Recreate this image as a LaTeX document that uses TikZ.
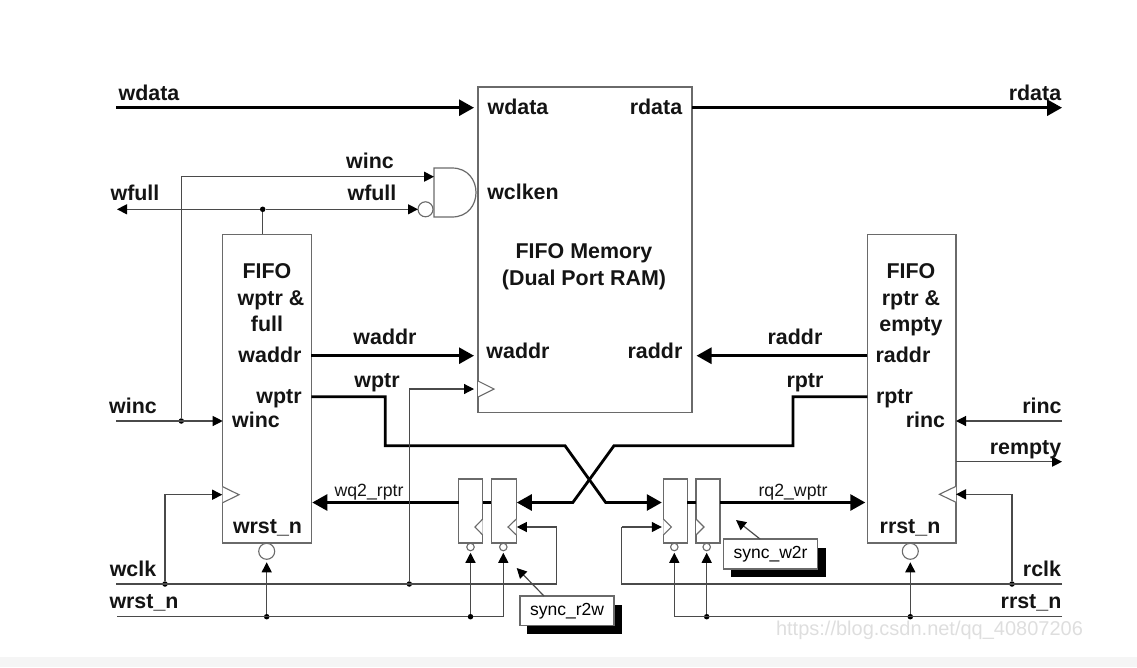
\documentclass[tikz,border=0pt]{standalone}
\usepackage{fontspec}
\setmainfont{Liberation Sans}
\usetikzlibrary{arrows.meta}
\definecolor{wire}{HTML}{4A4A4A}
\definecolor{edge}{HTML}{6A6A6A}
\tikzset{
  boxn/.style={draw=edge,line width=1.3pt,fill=white,inner sep=0pt,outer sep=0pt},
  wirethin/.style={draw=wire,line width=1.2pt,-{Triangle[length=10pt,width=10pt,color=black]}},
  wireplain/.style={draw=wire,line width=1.2pt},
  wirethick/.style={draw=black,line width=2.8pt,-{Triangle[length=15pt,width=16pt,color=black]}},
  wirebold/.style={draw=black,line width=2.8pt},
  lbl/.style={anchor=base,inner sep=0pt,text=black!92,font=\bfseries\fontsize{21.4}{24}\selectfont},
  small/.style={anchor=base,inner sep=0pt,text=black!92,font=\fontsize{17.7}{20}\selectfont},
  dotn/.style={circle,fill=black,inner sep=0pt,minimum size=5.5pt},
  bub/.style={circle,draw=edge,line width=1.1pt,fill=white,inner sep=0pt,outer sep=0pt},
  clk/.style={draw=edge,line width=1.1pt,fill=white},
  tagn/.style={boxn,font=\fontsize{17.5}{20}\selectfont,text=black},
  shadow/.style={fill=black,draw=none}
}
\begin{document}
\begin{tikzpicture}[x=1pt,y=-1pt]
\useasboundingbox (0,0) rectangle (1137,667);
\fill[black!4] (0,657) rectangle (1137,667);
% free ends and turning points
\coordinate (wdS) at (116,107.7);
\coordinate (rdE) at (1062,107.7);
\coordinate (wfE) at (117,209.3);
\coordinate (wiS) at (116,421);
\coordinate (wiT) at (181.3,176.7);
\coordinate (riS) at (1062,421);
\coordinate (reE) at (1062,461.7);
\coordinate (wcS) at (116,584);
\coordinate (wrS) at (117,616.7);
\coordinate (rcS) at (1062,584);
\coordinate (rrS) at (1062,616.7);
\coordinate (wcA) at (556.7,527);
\coordinate (wcB) at (556.7,584);
\coordinate (rcA) at (621.7,527);
\coordinate (rcB) at (621.7,584);
\coordinate (wp1) at (385.3,396.7);
\coordinate (wp2) at (385.3,445.7);
\coordinate (wp3) at (565,445.7);
\coordinate (wp4) at (605.7,502.5);
\coordinate (rp1) at (793,396.7);
\coordinate (rp2) at (793,445.7);
\coordinate (rp3) at (614,445.7);
\coordinate (rp4) at (572.8,502.5);
\coordinate (thick) at (0,502.5);
% boxes
\node[boxn,minimum width=214pt,minimum height=325.5pt] (mem) at (585,249.75) {};
\node[boxn,minimum width=88.6pt,minimum height=308.7pt] (fw) at (267,388.65) {};
\node[boxn,minimum width=88.7pt,minimum height=308.7pt] (fr) at (911.65,388.65) {};
\node[boxn,minimum width=24pt,minimum height=64pt] (s1) at (470.7,511) {};
\node[boxn,minimum width=25pt,minimum height=64pt] (s2) at (503.8,511) {};
\node[boxn,minimum width=24pt,minimum height=64pt] (s3) at (675.3,511) {};
\node[boxn,minimum width=24pt,minimum height=64pt] (s4) at (708,511) {};
% clock triangles
\draw[clk] (478,381) -- (494,389) -- (478,397);
\draw[clk] (222.7,486.7) -- (239,494.7) -- (222.7,502.7);
\draw[clk] (956,486.3) -- (939.4,494.3) -- (956,502.3);
\draw[clk] (482.7,519) -- (475,527) -- (482.7,535);
\draw[clk] (516.3,519) -- (508,527) -- (516.3,535);
\draw[clk] (663.3,519) -- (671.3,527) -- (663.3,535);
\draw[clk] (696,519) -- (704,527) -- (696,535);
% gate
\draw[draw=edge,line width=1.2pt,fill=white] (434,168) -- (452,168) .. controls (484,168) and (484,217) .. (452,217) -- (434,217) -- cycle;
\coordinate (gA) at (434,176.7);
\coordinate (gB) at (418,209.3);
\node[bub,minimum size=15pt] (gbub) at (425.5,209.3) {};
% inversion bubbles
\node[bub,minimum size=16pt] (bw) at (266.7,551.3) {};
\node[bub,minimum size=16pt] (br) at (910.3,551.3) {};
\node[bub,minimum size=7.5pt] (b1) at (470.5,547) {};
\node[bub,minimum size=7.5pt] (b2) at (503.3,547) {};
\node[bub,minimum size=7.5pt] (b3) at (674.3,547) {};
\node[bub,minimum size=7.5pt] (b4) at (706.7,547) {};
% junction dots
\node[dotn] (dwf) at (262.7,209.3) {};
\node[dotn] (dwi) at (181.3,421) {};
\node[dotn] (dwc) at (165,584) {};
\node[dotn] (dmc) at (409.3,584) {};
\node[dotn] (dwr) at (266.7,616.7) {};
\node[dotn] (ds1) at (470.5,616.7) {};
\node[dotn] (ds4) at (706.7,616.7) {};
\node[dotn] (drr) at (910.3,616.7) {};
\node[dotn] (drc) at (1012,584) {};
% thick connectors
\draw[wirethick,shorten >=4pt] (wdS) -- (mem.west |- wdS);
\draw[wirethick] (mem.east |- rdE) -- (rdE);
\draw[wirethick,shorten >=4pt] (fw.east |- 0,355.7) -- (mem.west |- 0,355.7);
\draw[wirethick,shorten >=4.5pt] (fr.west |- 0,355.7) -- (mem.east |- 0,355.7);
\draw[wirethick,shorten >=1.5pt] (fw.east |- wp1) -- (wp1) -- (wp2) -- (wp3) -- (wp4) -- (s3.west |- thick);
\draw[wirethick,shorten >=0.5pt] (fr.west |- rp1) -- (rp1) -- (rp2) -- (rp3) -- (rp4) -- (s2.east |- thick);
\draw[wirethick,shorten >=1pt] (s1.west |- thick) -- (fw.east |- thick);
\draw[wirebold] (s1.east |- thick) -- (s2.west |- thick);
\draw[wirebold] (s3.east |- thick) -- (s4.west |- thick);
\draw[wirethick,shorten >=2pt] (s4.east |- thick) -- (fr.west |- thick);
% thin connectors
\draw[wirethin] (dwi) -- (wiT) -- (gA);
\draw[wireplain] (dwi) -- (wiS);
\draw[wirethin] (wiS) -- (fw.west |- wiS);
\draw[wirethin] (dwf) -- (wfE);
\draw[wirethin] (dwf) -- (gB);
\draw[wireplain] (dwf) -- (dwf |- fw.north);
\draw[wireplain] (wcS) -- (wcB) -- (wcA);
\draw[wirethin,shorten >=0.5pt] (wcA) -- (s2.east |- wcA);
\draw[wirethin,shorten >=0.5pt] (dwc) -- (dwc |- 0,494.7) -- (fw.west |- 0,494.7);
\draw[wirethin,shorten >=4pt] (dmc) -- (dmc |- 0,389) -- (mem.west |- 0,389);
\draw[wireplain] (wrS) -- (ds1) -- (b2 |- wrS);
\draw[wirethin,shorten >=3pt] (dwr) -- (bw.south);
\draw[wirethin,shorten >=2pt] (ds1) -- (b1.south);
\draw[wirethin,shorten >=2pt] (b2 |- wrS) -- (b2.south);
\draw[wireplain] (rcS) -- (rcB) -- (rcA);
\draw[wirethin,shorten >=1.5pt] (rcA) -- (s3.west |- rcA);
\draw[wirethin] (drc) -- (drc |- 0,494.3) -- (fr.east |- 0,494.3);
\draw[wireplain] (rrS) -- (b3 |- rrS);
\draw[wirethin,shorten >=2pt] (b3 |- rrS) -- (b3.south);
\draw[wirethin,shorten >=2pt] (ds4) -- (b4.south);
\draw[wirethin,shorten >=3pt] (drr) -- (br.south);
\draw[wirethin] (riS) -- (fr.east |- riS);
\draw[wirethin] (fr.east |- reE) -- (reE);
% tags
\fill[shadow] (526.7,605) rectangle (622,634);
\node[tagn,minimum width=94pt,minimum height=29.7pt] (tr2w) at (567,610.85) {sync\_r2w};
\fill[shadow] (730.6,548) rectangle (826,577);
\node[tagn,minimum width=94pt,minimum height=30pt] (tw2r) at (770.5,554) {sync\_w2r};
\coordinate (tr2wT) at (516.7,568);
\coordinate (tw2rT) at (736,520);
\draw[wirethin] (544,596) -- (tr2wT);
\draw[wirethin] (760,539) -- (tw2rT);
% labels
\node[lbl] (t01) at (149,100) {wdata};
\node[lbl] (t02) at (518,114) {wdata};
\node[lbl] (t03) at (656,114) {rdata};
\node[lbl] (t04) at (1035,100) {rdata};
\node[lbl] (t05) at (370,168) {winc};
\node[lbl] (t06) at (372,200) {wfull};
\node[lbl] (t07) at (135,200) {wfull};
\node[lbl] (t08) at (523,199) {wclken};
\node[lbl] (t09) at (584,258) {FIFO Memory};
\node[lbl] (t10) at (584,285) {(Dual Port RAM)};
\node[lbl] (t11) at (267,278) {FIFO};
\node[lbl] (t12) at (271,305) {wptr \&};
\node[lbl] (t13) at (267,331) {full};
\node[lbl] (t14) at (270,362) {waddr};
\node[lbl] (t15) at (385,344) {waddr};
\node[lbl] (t16) at (518,358) {waddr};
\node[lbl] (t17) at (655,358) {raddr};
\node[lbl] (t18) at (795,344) {raddr};
\node[lbl] (t19) at (903,362) {raddr};
\node[lbl] (t20) at (911,278) {FIFO};
\node[lbl] (t21) at (911,305) {rptr \&};
\node[lbl] (t22) at (911,331) {empty};
\node[lbl] (t23) at (377,387) {wptr};
\node[lbl] (t24) at (805,387) {rptr};
\node[lbl] (t25) at (279,403) {wptr};
\node[lbl] (t26) at (894.5,403) {rptr};
\node[lbl] (t27) at (256,427) {winc};
\node[lbl] (t28) at (925.5,427) {rinc};
\node[lbl] (t29) at (133,413) {winc};
\node[lbl] (t30) at (1042,413) {rinc};
\node[lbl] (t31) at (1025.5,454) {rempty};
\node[lbl] (t32) at (267.5,533) {wrst\_n};
\node[lbl] (t33) at (910,533) {rrst\_n};
\node[lbl] (t34) at (133,576) {wclk};
\node[lbl] (t35) at (144,608) {wrst\_n};
\node[lbl] (t36) at (1042,576) {rclk};
\node[lbl] (t37) at (1031,608) {rrst\_n};
\node[small] (t38) at (369,496) {wq2\_rptr};
\node[small] (t39) at (793,496) {rq2\_wptr};
\node[anchor=base,inner sep=0pt,text=black!13,font=\fontsize{20}{22}\selectfont] (wm) at (929.5,635) {https://blog.csdn.net/qq\_40807206};
\end{tikzpicture}
\end{document}
